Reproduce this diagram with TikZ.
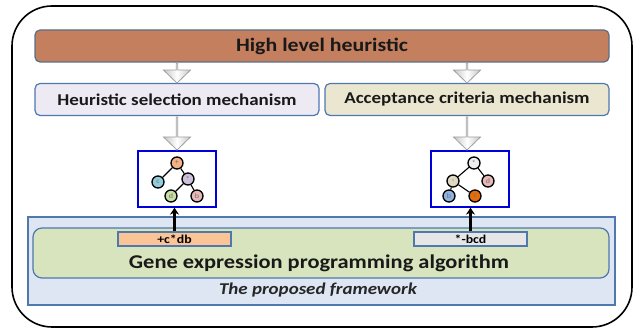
\documentclass[tikz,border=0pt]{standalone}
\usepackage{fontspec}
\setmainfont[FakeStretch=1.15]{Carlito}
\usetikzlibrary{shapes.arrows,arrows.meta,calc}
\definecolor{hlhfill}{HTML}{C47F5F}
\definecolor{hlhline}{HTML}{5A6E86}
\definecolor{frameblue}{HTML}{4F78AE}
\definecolor{hsmfill}{HTML}{EEEAF4}
\definecolor{acmfill}{HTML}{EAE6D0}
\definecolor{gepfill}{HTML}{D7E4BD}
\definecolor{fwfill}{HTML}{DDE6F2}
\definecolor{codeorange}{HTML}{FAC497}
\definecolor{codegray}{HTML}{E6E6E6}
\definecolor{torange}{HTML}{F4B183}
\definecolor{tcyan}{HTML}{92CDDC}
\definecolor{tlav}{HTML}{CCC0DA}
\definecolor{tgreen}{HTML}{C9DFA5}
\definecolor{tpink}{HTML}{E6B9B8}
\definecolor{tgray}{HTML}{EEEEEE}
\definecolor{tbeige}{HTML}{DDD9C3}
\definecolor{tblue}{HTML}{8DB3E2}
\definecolor{tdeep}{HTML}{E46C0A}
\begin{document}
\begin{tikzpicture}[x=1pt, y=-1pt,
    box/.style={draw=frameblue, line width=1.2pt, rounded corners=5pt, font=\bfseries\fontsize{16.5}{16.5}\selectfont, text=black!90},
    garrow/.style={single arrow, shape border rotate=270, draw=gray!75, left color=gray!45, right color=gray!45, middle color=white, line width=0.8pt, minimum width=27pt, single arrow head extend=7.5pt, single arrow tip angle=92, inner sep=0pt},
    tnode/.style={circle, draw, line width=1.3pt, minimum size=12pt, inner sep=0pt, font=\fontsize{7}{7}\selectfont, text=black!55},
    tedge/.style={line width=1.1pt},
    treebox/.style={draw=blue!85!black, line width=1.4pt, fill=white, minimum width=78pt, minimum height=56pt},
    codebox/.style={draw=frameblue, line width=1.2pt, minimum width=113pt, minimum height=14pt, inner sep=0pt, font=\bfseries\fontsize{12}{12}\selectfont}
]
    \useasboundingbox (0,0) rectangle (633,328);
    \draw [line width=1.6pt, rounded corners=40pt] (12,6) rectangle (632,327);

    \node [box, draw=hlhline, fill=hlhfill, minimum width=574pt, minimum height=32pt, font=\bfseries\fontsize{19}{19}\selectfont] (hlh) at (322,46) {High level heuristic};
    \node [box, fill=hsmfill, minimum width=284pt, minimum height=32pt] (hsm) at (177,99.5) {Heuristic selection mechanism};
    \node [box, fill=acmfill, minimum width=284pt, minimum height=32pt] (acm) at (467,99.5) {Acceptance criteria mechanism};
    \node [garrow, minimum height=20pt] (ga1) at ($(hsm.north)!0.5!(hsm.north |- hlh.south)$) {};
    \node [garrow, minimum height=20pt] (ga2) at ($(acm.north)!0.5!(acm.north |- hlh.south)$) {};

    \node [treebox] (tb1) at (177,179) {};
    \node [treebox] (tb2) at (470,179) {};
    \node [garrow, minimum height=33pt] (ga3) at ($(hsm.south)!0.5!(hsm.south |- tb1.north)$) {};
    \node [garrow, minimum height=33pt] (ga4) at ($(acm.south)!0.5!(acm.south |- tb2.north)$) {};

    \node [tnode, fill=torange] (l0) at (177,163) {+};
    \node [tnode, fill=tcyan] (l1) at (158,182) {c};
    \node [tnode, fill=tlav] (l2) at (188,179) {*};
    \node [tnode, fill=tgreen] (l3) at (171,196) {d};
    \node [tnode, fill=tpink] (l4) at (197,196) {b};
    \draw [tedge] (l0) -- (l1);
    \draw [tedge] (l0) -- (l2);
    \draw [tedge] (l2) -- (l3);
    \draw [tedge] (l2) -- (l4);

    \node [tnode, fill=tgray] (r0) at (474,163) {*};
    \node [tnode, fill=tbeige] (r1) at (453,181) {-};
    \node [tnode, fill=tpink] (r2) at (488,181) {d};
    \node [tnode, fill=tblue] (r3) at (449,196) {b};
    \node [tnode, fill=tdeep] (r4) at (475,196) {c};
    \draw [tedge] (r0) -- (r1);
    \draw [tedge] (r0) -- (r2);
    \draw [tedge] (r1) -- (r3);
    \draw [tedge] (r1) -- (r4);

    \node [draw=frameblue, line width=1.6pt, fill=fwfill, minimum width=587pt, minimum height=88pt] (fw) at (321.5,261) {};
    \node [box, rounded corners=9pt, fill=gepfill, minimum width=576pt, minimum height=50pt] (gep) at (321,253) {};
    \node [font=\bfseries\fontsize{19.5}{19.5}\selectfont, text=black!90] (geptext) at (319,263) {Gene expression programming algorithm};
    \node [font=\bfseries\itshape\fontsize{16.5}{16.5}\selectfont, text=black!85] (fwtext) at (318,290) {The proposed framework};
    \node [codebox, fill=codeorange] (c1) at (174.5,239) {+c*db};
    \node [codebox, fill=codegray] (c2) at (470.5,239) {*-bcd};
    \draw [-{Stealth[length=7pt,width=9pt]}, line width=2.2pt] (c1.north) -- (c1.north |- tb1.south);
    \draw [-{Stealth[length=7pt,width=9pt]}, line width=2.2pt] (c2.north) -- (c2.north |- tb2.south);
\end{tikzpicture}
\end{document}
